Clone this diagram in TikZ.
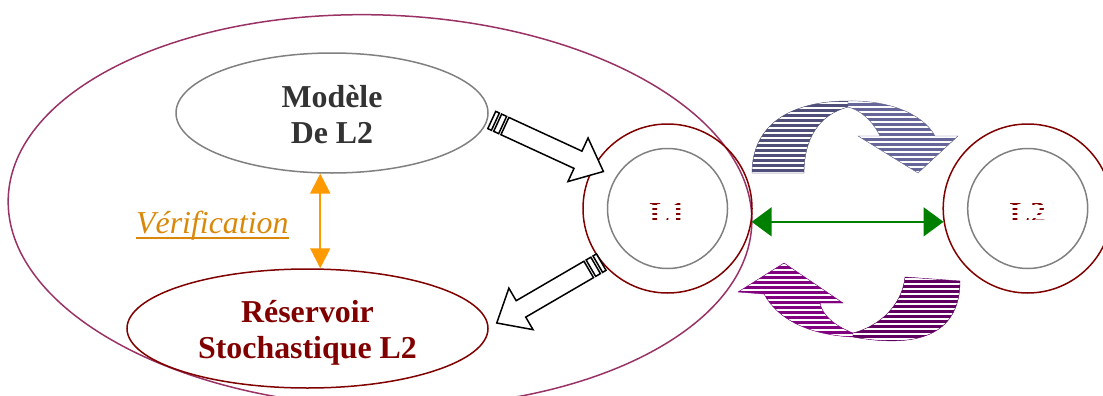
\documentclass[tikz,border=0pt]{standalone}
\usepackage{fontspec}
\setmainfont{Liberation Serif}
\usetikzlibrary{arrows.meta,shapes.geometric,calc}

\definecolor{ringpurple}{RGB}{153,51,102}
\definecolor{darkred}{RGB}{128,0,0}
\definecolor{midgray}{RGB}{128,128,128}
\definecolor{textgray}{RGB}{51,51,51}
\definecolor{verif}{RGB}{217,136,10}
\definecolor{arrorange}{RGB}{255,153,0}
\definecolor{arrgreen}{RGB}{0,128,0}
\definecolor{upleft}{RGB}{79,79,122}
\definecolor{upright}{RGB}{102,102,153}
\definecolor{lowleft}{RGB}{128,0,128}
\definecolor{lowright}{RGB}{96,0,96}

\tikzset{
  outer/.style={draw=darkred,circle,line width=1.5bp,minimum size=169bp,inner sep=0},
  inner/.style={draw=midgray,circle,line width=1.5bp,minimum size=120bp,inner sep=0},
  bubble/.style={ellipse,line width=1.5bp,inner sep=0,align=center,font=\fontsize{32}{36}\selectfont\bfseries},
  blockarrow/.style={draw=black,fill=white,line width=1.5bp,line join=miter},
  hatch/.style={path picture={
    \foreach \k in {0,...,18}
      \draw [white,line width=1.4bp] ([yshift=-2bp-\k*5bp]path picture bounding box.north west)
        -- ([yshift=-2bp-\k*5bp]path picture bounding box.north east);}},
  ltext/.style={anchor=base,text=darkred,font=\fontsize{31}{36}\selectfont\bfseries},
}

\newcommand{\stripedarrow}[2]{%
\draw [blockarrow] let \p1=($(#2)-(#1)$), \n1={atan2(\y1,\x1)}, \n2={veclen(\x1,\y1)} in
  [shift={(#1)}, rotate=\n1]
  (0bp,-9.5bp) -- (4bp,-9.5bp) -- (4bp,9.5bp) -- (0bp,9.5bp) -- cycle
  (6.5bp,-9.5bp) -- (12bp,-9.5bp) -- (12bp,9.5bp) -- (6.5bp,9.5bp) -- cycle
  (14.5bp,-9.5bp) -- (\n2-28bp,-9.5bp) -- (\n2-28bp,-24bp) -- (\n2+0bp,0bp)
  -- (\n2-28bp,24bp) -- (\n2-28bp,9.5bp) -- (14.5bp,9.5bp) -- cycle;
}

\begin{document}
\begin{tikzpicture}
\useasboundingbox (0bp,0bp) rectangle (1103bp,-396bp);

\draw [draw=ringpurple,line width=1.5bp,rotate around={-2:(380bp,-211bp)}] (380bp,-211bp) ellipse [x radius=372bp,y radius=196bp];

\node (M) at (332bp,-113bp) [bubble,draw=midgray,minimum width=312bp,minimum height=120bp,text=textgray] {\rule{0pt}{26bp}Modèle\\De L2};
\node (R) at (307.5bp,-328.5bp) [bubble,draw=darkred,minimum width=361bp,minimum height=119bp,text=darkred] {\rule{0pt}{31bp}Réservoir\\Stochastique L2};
\node (V) at (136bp,-233bp) [anchor=base west,inner sep=0,text=verif,font=\fontsize{32}{36}\selectfont\itshape] {Vérification};
\draw [verif,line width=1.8bp] ([yshift=-5bp]V.base west) -- ([yshift=-5bp]V.base east);
\draw [{Triangle[width=20bp,length=20bp]}-{Triangle[width=20bp,length=20bp]},draw=arrorange,line width=2bp] (M.-101) -- (M.-101 |- R.north);

\node (L1) at (667.5bp,-208.5bp) [outer] {};
\node (L1in) at (L1) [inner] {};
\node (L2) at (1027.7bp,-208.5bp) [outer] {};
\node (L2in) at (L2) [inner] {};
\node (T1) at ([yshift=-15bp]L1.center) [ltext] {L1};
\node (T2) at ([yshift=-15bp]L2.center) [ltext] {L2};
\foreach \k in {0,...,5} {
  \draw [white,line width=3bp] ([xshift=-22bp,yshift=-2.3bp+\k*4.8bp]T1.base) -- ++(44bp,0bp);
  \draw [white,line width=3bp] ([xshift=-22bp,yshift=-2.3bp+\k*4.8bp]T2.base) -- ++(44bp,0bp);
}

\draw [{Triangle[width=29bp,length=20bp]}-{Triangle[width=29bp,length=20bp]},draw=arrgreen,line width=2bp] (L1.-9) -- (L2.189);

\coordinate (a1) at ($(M.east)+(3bp,-7bp)$);
\coordinate (b1) at ($(L1)+(150:74bp)$);
\stripedarrow{a1}{b1}
\coordinate (a2) at (L1.219);
\coordinate (b2) at ($(R.east)+(8bp,5.5bp)$);
\stripedarrow{a2}{b2}

% upper curved arrow
\path [draw=upleft,fill=upleft,hatch] (752bp,-173bp) .. controls (752bp,-125bp) and (790bp,-101bp) .. (848bp,-101bp)
  -- (848bp,-107bp) .. controls (818bp,-115bp) and (804bp,-140bp) .. (804bp,-173bp) -- cycle;
\path [draw=upright,fill=upright,hatch] (848bp,-101bp) .. controls (885bp,-100bp) and (922bp,-112bp) .. (935bp,-136bp)
  -- (958bp,-136bp) -- (918bp,-173bp) -- (858bp,-136bp) -- (880bp,-136bp)
  .. controls (872bp,-120bp) and (860bp,-110bp) .. (848bp,-107bp) -- cycle;

% lower curved arrow
\path [draw=lowleft,fill=lowleft,hatch] (853bp,-333bp) .. controls (835bp,-326bp) and (822bp,-315bp) .. (820bp,-303bp)
  -- (843bp,-303bp) -- (784bp,-263bp) -- (738bp,-292bp) -- (764bp,-294bp)
  .. controls (778bp,-320bp) and (810bp,-335bp) .. (853bp,-337bp) -- cycle;
\path [draw=lowright,fill=lowright,hatch] (853bp,-333bp) .. controls (880bp,-326bp) and (902bp,-305bp) .. (905bp,-277bp)
  -- (960bp,-281bp) .. controls (960bp,-330bp) and (925bp,-350bp) .. (853bp,-337bp) -- cycle;
\end{tikzpicture}
\end{document}
